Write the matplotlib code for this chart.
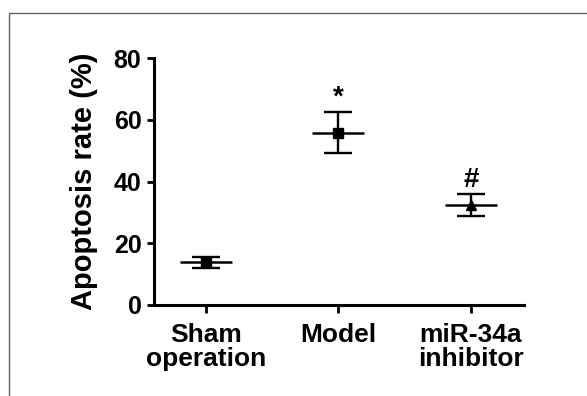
import matplotlib.pyplot as plt
from matplotlib.patches import Rectangle

# data
groups = ['Sham\noperation', 'Model', 'miR-34a\ninhibitor']
means = [13.8, 55.8, 32.3]
sds = [1.7, 6.6, 3.6]
markers = ['s', 's', '^']
signif = ['', '*', '#']

plt.rcParams['font.family'] = ['Liberation Sans', 'DejaVu Sans']
plt.rcParams['font.weight'] = 'bold'

fig = plt.figure(figsize=(5.87, 3.96), dpi=100)
ax = fig.add_axes([154 / 587, 1 - 305 / 396, 370 / 587, 247 / 396])

# frame round the panel, runs off right and bottom
fig.patches.append(Rectangle((9 / 587, -0.05), 1.2, 1 - 13 / 396 + 0.05,
                             transform=fig.transFigure, fill=False,
                             ec='#606060', lw=1.0))

x = list(range(len(groups)))
for i in x:
    ax.errorbar(i, means[i], yerr=sds[i], fmt='none', ecolor='black',
                elinewidth=1.7, capsize=10, capthick=1.7)
    # mean line
    ax.plot(i, means[i], marker='_', ms=38, mew=1.8, color='black')
    ax.plot(i, means[i], marker=markers[i], ms=7, color='black', ls='none')
    if signif[i]:
        ax.annotate(signif[i], xy=(i, means[i] + sds[i]), xytext=(0, 1),
                    textcoords='offset points', ha='center', va='bottom',
                    fontsize=20, fontweight='bold')

ax.set_xlim(-0.39, 2.4)
ax.set_ylim(0, 80)
ax.set_yticks([0, 20, 40, 60, 80])
ax.set_xticks(x)
ax.set_xticklabels(groups, fontsize=19, linespacing=1.0)
ax.tick_params(axis='y', labelsize=18, width=2, length=5, pad=4)
ax.tick_params(axis='x', width=2, length=6, pad=7)
ax.set_ylabel('Apoptosis rate (%)', fontsize=21, fontweight='bold', labelpad=11)

for s in ['top', 'right']:
    ax.spines[s].set_visible(False)
for s in ['left', 'bottom']:
    ax.spines[s].set_linewidth(2.2)

fig.savefig('out.png', dpi=100)
